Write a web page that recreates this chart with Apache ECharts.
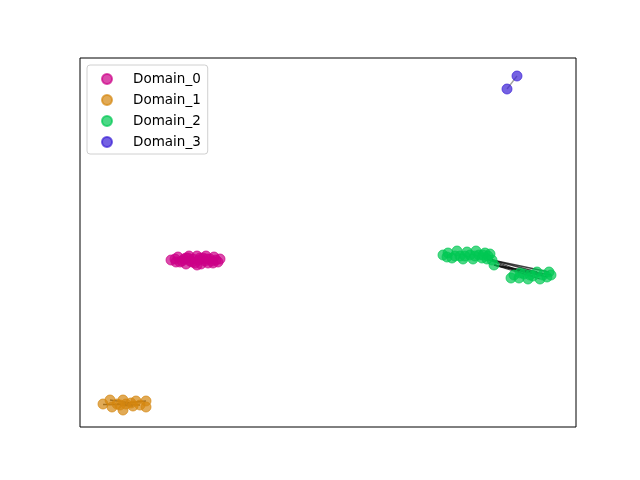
<!DOCTYPE html>
<html>
<head>
<meta charset="utf-8">
<script src="https://cdn.jsdelivr.net/npm/echarts@6/dist/echarts.min.js"></script>
<style>html,body{margin:0;padding:0;background:#fff}#c{width:640px;height:480px}</style>
</head>
<body>
<div id="c"></div>
<script>
// Node positions (embedding units) per domain
const domainNames = ['Domain_0', 'Domain_1', 'Domain_2', 'Domain_3'];
const domainColors = ['#cc0088', '#d4860e', '#00c853', '#3a1fd6'];

const domain0 = [
  [91,167],[95,168],[98,170],[100,165],[104,168],[106,163],[109,171],[110,166],[113,168],[115,164],
  [117,171],[119,167],[121,163],[123,169],[125,166],[126,171],[128,164],[130,168],[132,166],[134,170],
  [136,167],[138,165],[140,168],[96,165],[102,166],[108,169],[112,165],[120,169],[127,168],[133,164],
  [117,162],[106,169]
];
const domain1 = [
  [23,23],[30,27],[32,20],[37,23],[43,27],[43,17],[46,23],[51,24],[56,26],[60,22],[66,26],[66,20],[40,22],[53,21]
];
const domain2 = [
  [363,172],[368,174],[372,169],[377,176],[380,171],[383,168],[387,175],[390,172],[393,168],[396,176],
  [399,172],[402,169],[405,174],[408,171],[410,173],[412,167],[414,162],[375,171],[385,171],[395,171],
  [403,172],[367,170],[407,168],
  [431,149],[434,152],[439,149],[444,153],[448,148],[453,151],[457,155],[460,148],[463,152],[467,150],
  [469,155],[471,152],[450,152],[440,154]
];
const domain3 = [[427,338],[437,351]];

// Edges as index pairs into each domain's node list
const edges1 = [[0,6],[3,10],[6,9],[1,7],[12,13]];
const edges2 = [[16,32],[16,30],[15,29],[16,34],[15,33],[22,26],[16,31],[15,28]];
const edges3 = [[0,1]];

const nodeSets = [domain0, domain1, domain2, domain3];
const edgeSets = [[], edges1, edges2, edges3];
const edgeColors = ['#000', '#111', '#111', '#888'];

const series = [];
edgeSets.forEach((es, d) => {
  if (!es.length) return;
  series.push({
    type: 'lines',
    coordinateSystem: 'cartesian2d',
    silent: true,
    z: 1,
    lineStyle: { color: edgeColors[d], width: 1.3, opacity: 0.8 },
    data: es.map(([a, b]) => ({ coords: [nodeSets[d][a], nodeSets[d][b]] }))
  });
});
nodeSets.forEach((pts, d) => {
  series.push({
    name: domainNames[d],
    type: 'scatter',
    z: 2,
    symbolSize: 10,
    itemStyle: { color: domainColors[d], opacity: 0.7, borderColor: domainColors[d], borderWidth: 1 },
    data: pts
  });
});

const chart = echarts.init(document.getElementById('c'));
chart.setOption({
  animation: false,
  backgroundColor: '#fff',
  grid: { left: 80, top: 58, width: 496, height: 369, show: true, borderColor: '#000', borderWidth: 1 },
  xAxis: { type: 'value', min: 0, max: 496, show: false },
  yAxis: { type: 'value', min: 0, max: 369, show: false },
  legend: {
    data: domainNames,
    orient: 'vertical',
    left: 87, top: 65,
    padding: [7, 7, 5, 14],
    itemGap: 7,
    itemWidth: 10, itemHeight: 10,
    icon: 'circle',
    backgroundColor: '#fff',
    borderColor: '#d0d0d0',
    borderWidth: 1,
    borderRadius: 3,
    textStyle: { fontFamily: 'DejaVu Sans', fontSize: 13.5, color: '#000', padding: [0, 0, 0, 16], lineHeight: 14 }
  },
  series: series
});
</script>
</body>
</html>
